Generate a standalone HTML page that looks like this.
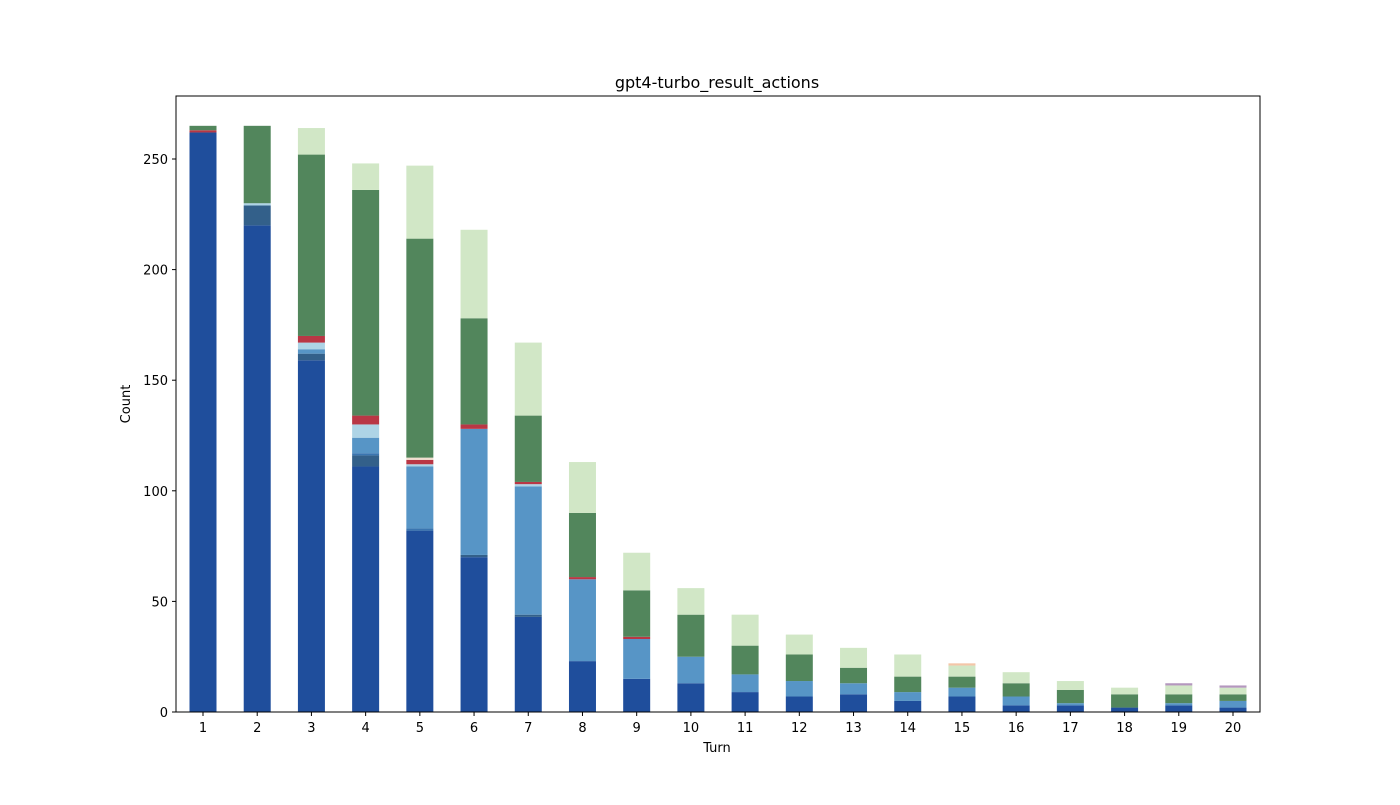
<!DOCTYPE html>
<html><head><meta charset="utf-8"><style>
body{margin:0;background:#fff;font-family:"Liberation Sans",sans-serif;}
svg text{font-family:"DejaVu Sans","Liberation Sans",sans-serif;font-size:13px;fill:#000;}
</style></head><body>
<svg id="chart" width="1400" height="800">
<text x="717" y="88" text-anchor="middle" style="font-size:16px">gpt4-turbo_result_actions</text>
<g id="bars"></g>
<g id="axes"></g>
<rect x="176" y="96" width="1084" height="616" fill="none" stroke="#000" stroke-width="1"/>
<text x="717" y="752" text-anchor="middle">Turn</text>
<text x="130" y="404" text-anchor="middle" transform="rotate(-90 130 404)">Count</text>
</svg>
<script>
const categories=[1,2,3,4,5,6,7,8,9,10,11,12,13,14,15,16,17,18,19,20];
const seriesNames=["s-darkblue","s-slate","s-blue2","s-midblue","s-lightblue","s-red","s-beige","s-green","s-lightgreen","s-peach","s-purple"];
const seriesColors=["#1f4e9c","#33608a","#3a75b0","#5795c6","#aed4e6","#b93745","#f0e0d0","#52865c","#d1e7c6","#f4c6a8","#b497be"];
const darkblue=[262,220,159,111,82,70,43,23,15,13,9,7,8,5,7,3,3,2,3,2];
const slate=[0,9,3,5,0,1,1,0,0,0,0,0,0,0,0,0,0,0,0,0];
const blue2=[0,0,0,1,1,0,0,0,0,0,0,0,0,0,0,0,0,0,0,0];
const midblue=[0,0,2,7,28,57,58,37,18,12,8,7,5,4,4,4,1,0,1,3];
const lightblue=[0,1,3,6,1,0,1,0,0,0,0,0,0,0,0,0,0,0,0,0];
const red=[1,0,3,4,2,2,1,1,1,0,0,0,0,0,0,0,0,0,0,0];
const beige=[0,0,0,0,1,0,0,0,0,0,0,0,0,0,0,0,0,0,0,0];
const green=[2,35,82,102,99,48,30,29,21,19,13,12,7,7,5,6,6,6,4,3];
const lightgreen=[0,0,12,12,33,40,33,23,17,12,14,9,9,10,5,5,4,3,4,3];
const peach=[0,0,0,0,0,0,0,0,0,0,0,0,0,0,1,0,0,0,0,0];
const purple=[0,0,0,0,0,0,0,0,0,0,0,0,0,0,0,0,0,0,1,1];
const yTicks=[0,50,100,150,200,250];
const series=[darkblue,slate,blue2,midblue,lightblue,red,beige,green,lightgreen,peach,purple];
const NS="http://www.w3.org/2000/svg";
const x0=203,dx=(1233-203)/19,bw=27;
function xs(i){return x0+i*dx;}
function ys(v){return 712-v*(553/250);}
const bars=document.getElementById('bars');
categories.forEach((c,i)=>{
  let acc=0;
  series.forEach((s,k)=>{
    const v=s[i]; if(!v) return;
    const r=document.createElementNS(NS,'rect');
    r.setAttribute('x',xs(i)-bw/2);
    r.setAttribute('width',bw);
    r.setAttribute('y',ys(acc+v));
    r.setAttribute('height',ys(acc)-ys(acc+v));
    r.setAttribute('fill',seriesColors[k]);
    
    
    bars.appendChild(r);
    acc+=v;
  });
});
const axes=document.getElementById('axes');
categories.forEach((c,i)=>{
  const l=document.createElementNS(NS,'line');
  l.setAttribute('x1',xs(i));l.setAttribute('x2',xs(i));
  l.setAttribute('y1',712);l.setAttribute('y2',716);
  l.setAttribute('stroke','#000');
  
  
  axes.appendChild(l);
  const t=document.createElementNS(NS,'text');
  t.setAttribute('x',xs(i));t.setAttribute('y',732);
  t.setAttribute('text-anchor','middle');
  t.textContent=c;
  
  
  axes.appendChild(t);
});
yTicks.forEach(v=>{
  const l=document.createElementNS(NS,'line');
  l.setAttribute('x1',172);l.setAttribute('x2',176);
  l.setAttribute('y1',ys(v));l.setAttribute('y2',ys(v));
  l.setAttribute('stroke','#000');
  
  
  axes.appendChild(l);
  const t=document.createElementNS(NS,'text');
  t.setAttribute('x',168);t.setAttribute('y',ys(v)+5);
  t.setAttribute('text-anchor','end');
  t.textContent=v;
  
  
  axes.appendChild(t);
});
</script>
</body></html>
